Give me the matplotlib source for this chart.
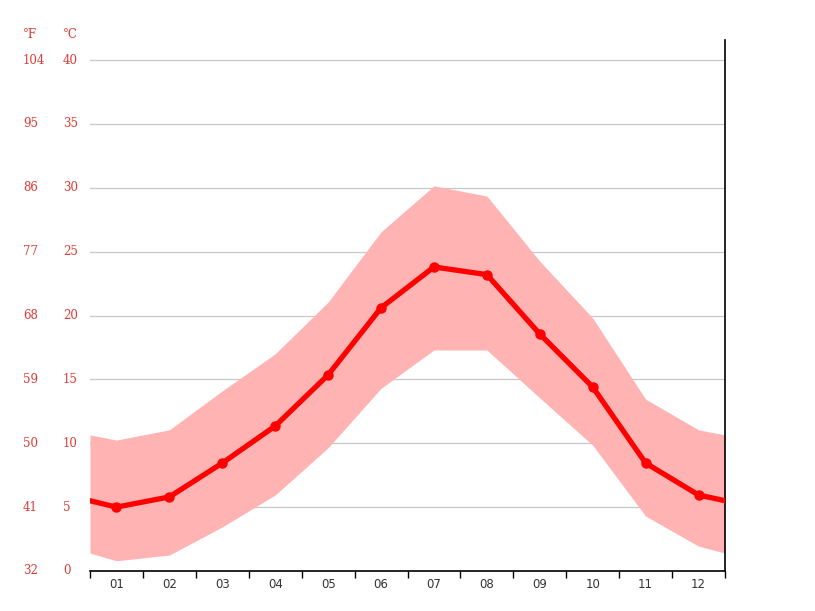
import numpy as np
import matplotlib
matplotlib.use("Agg")
from matplotlib import pyplot as plt
from matplotlib import transforms

months = ["01", "02", "03", "04", "05", "06", "07", "08", "09", "10", "11", "12"]
mean_temp = [5.0, 5.8, 8.45, 11.35, 15.35, 20.6, 23.8, 23.2, 18.55, 14.4, 8.45, 5.95]
max_temp = [10.25, 11.05, 14.1, 17.0, 21.05, 26.55, 30.15, 29.35, 24.25, 19.8, 13.45, 11.05]
min_temp = [0.8, 1.25, 3.45, 5.95, 9.65, 14.3, 17.3, 17.3, 13.55, 9.85, 4.3, 1.95]
# values at the left/right edge of the plot (year wraps around)
edge_mean = 5.5
edge_max = 10.65
edge_min = 1.4

c_ticks = [0, 5, 10, 15, 20, 25, 30, 35, 40]
f_ticks = [32, 41, 50, 59, 68, 77, 86, 95, 104]

label_red = "#dc3a34"
plt.rcParams["font.family"] = ["DejaVu Serif"]

fig = plt.figure(figsize=(8.15, 6.11), dpi=100)
ax = fig.add_axes([90 / 815, 40 / 611, 635 / 815, 531 / 611])

x = np.arange(1, 13)
xe = np.concatenate([[0.5], x, [12.5]])
ax.fill_between(xe, [edge_min] + min_temp + [edge_min], [edge_max] + max_temp + [edge_max],
                color="#ffb3b3", linewidth=0, zorder=2)
ax.plot(xe, [edge_mean] + mean_temp + [edge_mean], color="#ff0000", linewidth=3.8,
        solid_joinstyle="round", zorder=3)
ax.plot(x, mean_temp, "o", color="#ff0000", markersize=6.5, zorder=4)

for t in c_ticks[1:]:
    ax.axhline(t, color="#c8c8c8", linewidth=0.9, zorder=1)

ax.set_xlim(0.5, 12.5)
ax.set_ylim(0, 40 + 20 / 12.775)

for s in ["top", "left"]:
    ax.spines[s].set_visible(False)
ax.spines["bottom"].set_linewidth(1.2)
ax.spines["right"].set_linewidth(1.2)

ax.set_yticks([])
ax.set_xticks(np.arange(0.5, 13.0, 1.0))
ax.set_xticklabels([])
ax.set_xticks(x, minor=True)
ax.set_xticklabels(months, minor=True, fontsize=8.5, color="#333333", family="DejaVu Sans")
ax.tick_params(axis="x", which="major", length=5, width=1, direction="out")
ax.tick_params(axis="x", which="minor", length=0, pad=5)

tr = transforms.blended_transform_factory(fig.transFigure, ax.transData)
for c, f in zip(c_ticks, f_ticks):
    ax.text(23 / 815, c, str(f), transform=tr, color=label_red, fontsize=8.5,
            ha="left", va="center")
    ax.text(63 / 815, c, str(c), transform=tr, color=label_red, fontsize=8.5,
            ha="left", va="center")
fig.text(23 / 815, 1 - 35 / 611, "°F", color=label_red, fontsize=8.5, ha="left", va="center")
fig.text(63 / 815, 1 - 35 / 611, "°C", color=label_red, fontsize=8.5, ha="left", va="center")

fig.savefig("out.png", dpi=100)
